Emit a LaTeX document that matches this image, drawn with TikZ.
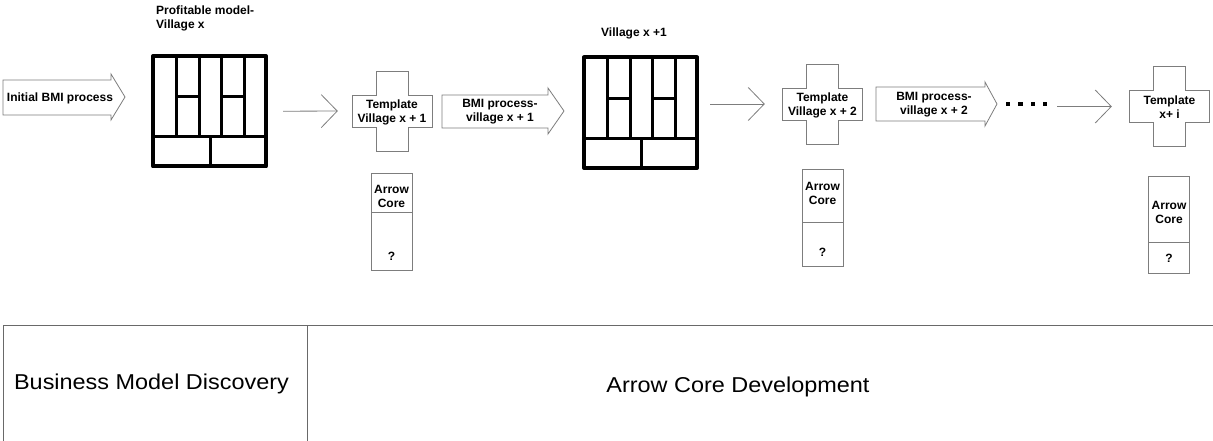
\documentclass[tikz,border=0pt]{standalone}
\usepackage{fontspec}
\setmainfont{Liberation Sans}
\newfontfamily\widefont[FakeStretch=1.09]{Liberation Sans}
\usetikzlibrary{arrows.meta,calc}
\definecolor{ln}{RGB}{125,125,125}
\definecolor{bl}{RGB}{105,105,105}
\tikzset{
  lbl/.style={font=\fontsize{12}{14}\selectfont\bfseries, align=center, inner sep=0pt},
  outline/.style={draw=ln, line width=0.8pt, fill=white, line join=miter},
  conn/.style={draw=ln, line width=0.8pt, -{Straight Barb[length=16pt,width=33pt]}},
  gridthick/.style={line width=4pt, line join=round},
  gridthin/.style={line width=3pt},
  rule/.style={draw=bl, line width=1pt},
  corebox/.style={draw=ln, line width=0.8pt, minimum width=41pt, minimum height=97pt, anchor=north west, inner sep=0pt},
  big/.style={font=\widefont\fontsize{21.5}{26}\selectfont, inner sep=0pt},
}
\newcommand\drawgrid[3]{%
  \begin{scope}[shift={(#2,#3)}]
    \node[minimum width=113pt, minimum height=110.5pt, inner sep=0pt] (#1) at (56.5,55.25) {};
    \draw[gridthin] (23,0) -- (23,80.7);
    \draw[gridthin] (46,0) -- (46,80.7);
    \draw[gridthin] (68,0) -- (68,80.7);
    \draw[gridthin] (91,0) -- (91,80.7);
    \draw[gridthin] (23,41) -- (46,41);
    \draw[gridthin] (68,41) -- (91,41);
    \draw[gridthin] (0,80.7) -- (113,80.7);
    \draw[gridthin] (57,80.7) -- (57,110.5);
    \draw[gridthick] (0,0) rectangle (113,110.5);
  \end{scope}}
\newcommand\tplcross[4]{%
  \begin{scope}[shift={(#2,#3)}]
    \draw[outline] (-40,-16) -- (-16,-16) -- (-16,-40) -- (16,-40) -- (16,-16) -- (40,-16)
      -- (40,16) -- (16,16) -- (16,40) -- (-16,40) -- (-16,16) -- (-40,16) -- cycle;
    \node[minimum width=80pt, minimum height=32pt, inner sep=0pt] (#1) at (0,0) {};
    \node[lbl] (#1txt) at (0,1) {#4};
  \end{scope}}
\begin{document}
\begin{tikzpicture}[x=1pt,y=-1pt]
\useasboundingbox (0,0) rectangle (1213,441);

% initial block arrow
\draw[outline] (3,80) -- (111,80) -- (111,74) -- (125,97) -- (111,120) -- (111,115) -- (3,115) -- cycle;
\node[lbl] (ibmi) at (60,98.5) {Initial BMI process};

% labels
\node[lbl, align=left, anchor=north west] (pm) at (156,5.5) {Profitable model-\\Village x};
\node[lbl, anchor=base west] (vx1) at (601,37) {Village x +1};

% grids
\drawgrid{g1}{153}{56}
\drawgrid{g2}{584}{57.5}

% template crosses
\tplcross{t1}{392}{111}{Template\\Village x + 1}
\tplcross{t2}{822.5}{104}{Template\\Village x + 2}
\tplcross{t3}{1169.5}{106.5}{Template\\x+ i}

% BMI block arrows
\draw[outline] (442,95) -- (548,95) -- (548,88) -- (564,111) -- (548,134) -- (548,128) -- (442,128) -- cycle;
\node[lbl] (bmi1) at (500,112) {BMI process-\\village x + 1};
\draw[outline] (876,87) -- (985,87) -- (985,82) -- (997,104) -- (985,126) -- (985,121) -- (876,121) -- cycle;
\node[lbl] (bmi2) at (934,105) {BMI process-\\village x + 2};

% dots
\node[minimum width=42pt, minimum height=5pt, inner sep=0pt] (dots) at (1026.5,104) {};
\foreach \dx in {1008,1020.5,1033,1045}
  \fill (\dx-2.2,101.8) rectangle (\dx+2.2,106.2);

% connectors
\draw[conn, shorten <=17pt, shorten >=14pt] (g1.east) -- (t1.west);
\draw[conn, shorten <=13pt, shorten >=17.5pt] (g2.east |- t2.west) -- (t2.west);
\draw[conn, shorten <=9.5pt, shorten >=17.5pt] (dots.east |- t3.west) -- (t3.west);

% arrow core boxes
\node[corebox] (ac1) at (371,173) {};
\draw[draw=ln, line width=0.8pt] (ac1.west |- 0,212) -- (ac1.east |- 0,212);
\node[lbl] (ac1t) at (391.5,196) {Arrow\\Core};
\node[lbl] (ac1q) at (391.5,256) {?};

\node[corebox] (ac2) at (802,169) {};
\draw[draw=ln, line width=0.8pt] (ac2.west |- 0,222) -- (ac2.east |- 0,222);
\node[lbl] (ac2t) at (822.5,193) {Arrow\\Core};
\node[lbl] (ac2q) at (822.5,252) {?};

\node[corebox] (ac3) at (1148,176) {};
\draw[draw=ln, line width=0.8pt] (ac3.west |- 0,242) -- (ac3.east |- 0,242);
\node[lbl] (ac3t) at (1169,212) {Arrow\\Core};
\node[lbl] (ac3q) at (1169,258) {?};

% bottom band
\draw[rule] (3,441) -- (3,325) -- (1213,325);
\draw[rule] (307,325) -- (307,441);
\node[big, anchor=base] (bmd) at (151.5,389) {Business Model Discovery};
\node[big, anchor=base] (acd) at (738,392) {Arrow Core Development};
\end{tikzpicture}
\end{document}
